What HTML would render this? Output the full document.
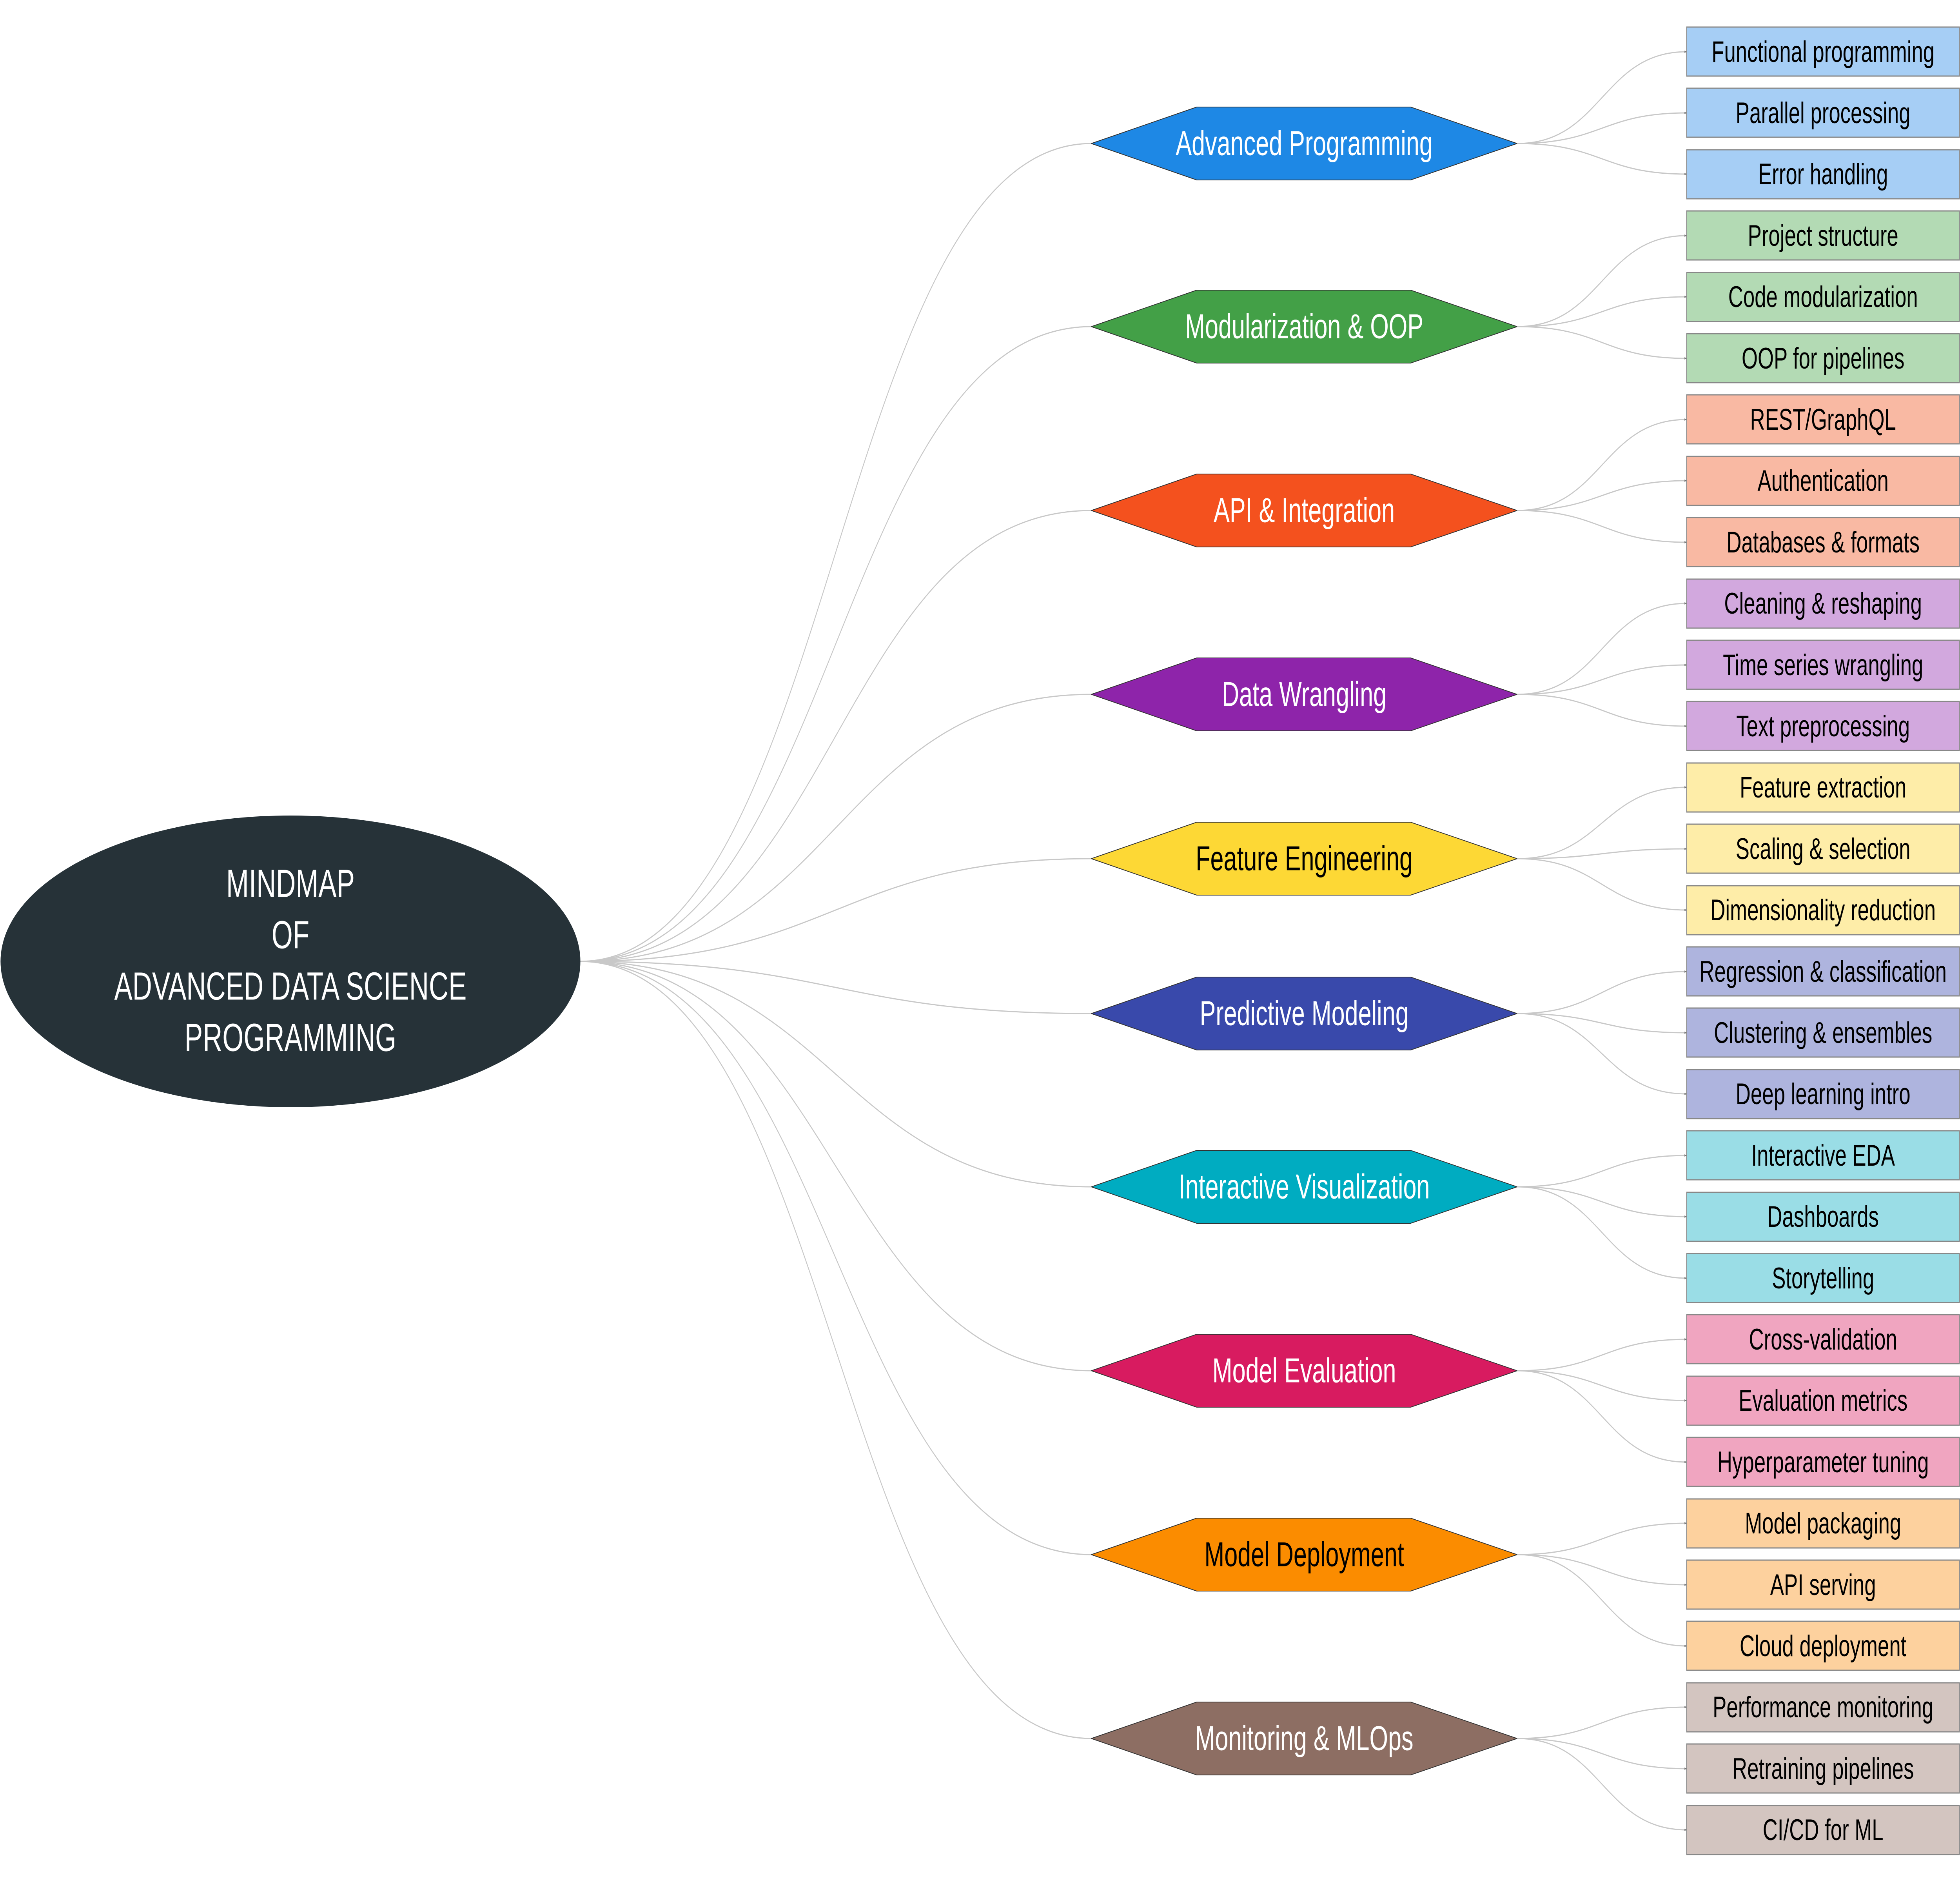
<!DOCTYPE html>
<html><head><meta charset="utf-8"><style>
html,body{margin:0;padding:0;background:#fff;width:100%;height:100%;overflow:hidden;}
svg{display:block;width:100vw;height:100vh;}
text{font-family:"Liberation Sans",sans-serif;text-anchor:middle;dominant-baseline:central;}
.h{font-size:88px;}
.l{font-size:76px;fill:#000;}
.e{fill:none;stroke:#c8c8c8;stroke-width:3;}
.b{stroke:#888;stroke-width:3;}
</style></head><body>
<svg viewBox="0 0 7200 4800" preserveAspectRatio="none" xmlns="http://www.w3.org/2000/svg">
<defs><marker id="a" markerWidth="8" markerHeight="8" refX="8" refY="4" orient="auto" markerUnits="userSpaceOnUse"><path d="M0,1 L8,4 L0,7 z" fill="#777"/></marker></defs>
<g class="e">
<path d="M2130,2452 C3070,2452 3070,366 4009,366"/>
<path d="M2130,2452 C3070,2452 3070,833 4009,833"/>
<path d="M2130,2452 C3070,2452 3070,1302 4009,1302"/>
<path d="M2130,2452 C3070,2452 3070,1771 4009,1771"/>
<path d="M2130,2452 C3070,2452 3070,2190 4009,2190"/>
<path d="M2130,2452 C3070,2452 3070,2585 4009,2585"/>
<path d="M2130,2452 C3070,2452 3070,3027 4009,3027"/>
<path d="M2130,2452 C3070,2452 3070,3496 4009,3496"/>
<path d="M2130,2452 C3070,2452 3070,3965 4009,3965"/>
<path d="M2130,2452 C3070,2452 3070,4434 4009,4434"/>
</g>
<g class="e" marker-end="url(#a)">
<path d="M5573,366 C5885,366 5885,132 6196,132"/>
<path d="M5573,366 C5885,366 5885,288 6196,288"/>
<path d="M5573,366 C5885,366 5885,444 6196,444"/>
<path d="M5573,833 C5885,833 5885,601 6196,601"/>
<path d="M5573,833 C5885,833 5885,757 6196,757"/>
<path d="M5573,833 C5885,833 5885,914 6196,914"/>
<path d="M5573,1302 C5885,1302 5885,1070 6196,1070"/>
<path d="M5573,1302 C5885,1302 5885,1226 6196,1226"/>
<path d="M5573,1302 C5885,1302 5885,1383 6196,1383"/>
<path d="M5573,1771 C5885,1771 5885,1539 6196,1539"/>
<path d="M5573,1771 C5885,1771 5885,1696 6196,1696"/>
<path d="M5573,1771 C5885,1771 5885,1852 6196,1852"/>
<path d="M5573,2190 C5885,2190 5885,2008 6196,2008"/>
<path d="M5573,2190 C5885,2190 5885,2165 6196,2165"/>
<path d="M5573,2190 C5885,2190 5885,2321 6196,2321"/>
<path d="M5573,2585 C5885,2585 5885,2478 6196,2478"/>
<path d="M5573,2585 C5885,2585 5885,2634 6196,2634"/>
<path d="M5573,2585 C5885,2585 5885,2790 6196,2790"/>
<path d="M5573,3027 C5885,3027 5885,2947 6196,2947"/>
<path d="M5573,3027 C5885,3027 5885,3103 6196,3103"/>
<path d="M5573,3027 C5885,3027 5885,3260 6196,3260"/>
<path d="M5573,3496 C5885,3496 5885,3416 6196,3416"/>
<path d="M5573,3496 C5885,3496 5885,3572 6196,3572"/>
<path d="M5573,3496 C5885,3496 5885,3729 6196,3729"/>
<path d="M5573,3965 C5885,3965 5885,3885 6196,3885"/>
<path d="M5573,3965 C5885,3965 5885,4042 6196,4042"/>
<path d="M5573,3965 C5885,3965 5885,4198 6196,4198"/>
<path d="M5573,4434 C5885,4434 5885,4354 6196,4354"/>
<path d="M5573,4434 C5885,4434 5885,4511 6196,4511"/>
<path d="M5573,4434 C5885,4434 5885,4667 6196,4667"/>
</g>
<ellipse cx="1067" cy="2452" rx="1065" ry="372" fill="#263238"/>
<g fill="#fff" style="font-size:100px">
<text x="1067" y="2254">MINDMAP</text>
<text x="1067" y="2385">OF</text>
<text x="1067" y="2516">ADVANCED DATA SCIENCE</text>
<text x="1067" y="2647">PROGRAMMING</text>
</g>
<g stroke="#333" stroke-width="2">
<path fill="#1E88E5" d="M4009,366 L4396,273 L5182,273 L5573,366 L5182,459 L4396,459 Z"/>
<path fill="#43A047" d="M4009,833 L4396,740 L5182,740 L5573,833 L5182,926 L4396,926 Z"/>
<path fill="#F4511E" d="M4009,1302 L4396,1209 L5182,1209 L5573,1302 L5182,1395 L4396,1395 Z"/>
<path fill="#8E24AA" d="M4009,1771 L4396,1678 L5182,1678 L5573,1771 L5182,1864 L4396,1864 Z"/>
<path fill="#FDD835" d="M4009,2190 L4396,2097 L5182,2097 L5573,2190 L5182,2283 L4396,2283 Z"/>
<path fill="#3949AB" d="M4009,2585 L4396,2492 L5182,2492 L5573,2585 L5182,2678 L4396,2678 Z"/>
<path fill="#00ACC1" d="M4009,3027 L4396,2934 L5182,2934 L5573,3027 L5182,3120 L4396,3120 Z"/>
<path fill="#D81B60" d="M4009,3496 L4396,3403 L5182,3403 L5573,3496 L5182,3589 L4396,3589 Z"/>
<path fill="#FB8C00" d="M4009,3965 L4396,3872 L5182,3872 L5573,3965 L5182,4058 L4396,4058 Z"/>
<path fill="#8D6E63" d="M4009,4434 L4396,4341 L5182,4341 L5573,4434 L5182,4527 L4396,4527 Z"/>
</g>
<g class="h">
<text x="4791" y="366" fill="#fff">Advanced Programming</text>
<text x="4791" y="833" fill="#fff">Modularization &amp; OOP</text>
<text x="4791" y="1302" fill="#fff">API &amp; Integration</text>
<text x="4791" y="1771" fill="#fff">Data Wrangling</text>
<text x="4791" y="2190" fill="#000">Feature Engineering</text>
<text x="4791" y="2585" fill="#fff">Predictive Modeling</text>
<text x="4791" y="3027" fill="#fff">Interactive Visualization</text>
<text x="4791" y="3496" fill="#fff">Model Evaluation</text>
<text x="4791" y="3965" fill="#000">Model Deployment</text>
<text x="4791" y="4434" fill="#fff">Monitoring &amp; MLOps</text>
</g>
<g class="b">
<rect x="6196" y="69" width="1002" height="125" fill="#A6CEF5"/>
<rect x="6196" y="225" width="1002" height="125" fill="#A6CEF5"/>
<rect x="6196" y="382" width="1002" height="125" fill="#A6CEF5"/>
<rect x="6196" y="538" width="1002" height="125" fill="#B3DAB4"/>
<rect x="6196" y="695" width="1002" height="125" fill="#B3DAB4"/>
<rect x="6196" y="851" width="1002" height="125" fill="#B3DAB4"/>
<rect x="6196" y="1007" width="1002" height="125" fill="#F9B9A3"/>
<rect x="6196" y="1164" width="1002" height="125" fill="#F9B9A3"/>
<rect x="6196" y="1320" width="1002" height="125" fill="#F9B9A3"/>
<rect x="6196" y="1477" width="1002" height="125" fill="#D2A8DE"/>
<rect x="6196" y="1633" width="1002" height="125" fill="#D2A8DE"/>
<rect x="6196" y="1789" width="1002" height="125" fill="#D2A8DE"/>
<rect x="6196" y="1946" width="1002" height="125" fill="#FEEDA8"/>
<rect x="6196" y="2102" width="1002" height="125" fill="#FEEDA8"/>
<rect x="6196" y="2259" width="1002" height="125" fill="#FEEDA8"/>
<rect x="6196" y="2415" width="1002" height="125" fill="#AEB4DE"/>
<rect x="6196" y="2571" width="1002" height="125" fill="#AEB4DE"/>
<rect x="6196" y="2728" width="1002" height="125" fill="#AEB4DE"/>
<rect x="6196" y="2884" width="1002" height="125" fill="#9ADDE6"/>
<rect x="6196" y="3041" width="1002" height="125" fill="#9ADDE6"/>
<rect x="6196" y="3197" width="1002" height="125" fill="#9ADDE6"/>
<rect x="6196" y="3353" width="1002" height="125" fill="#F0A5C0"/>
<rect x="6196" y="3510" width="1002" height="125" fill="#F0A5C0"/>
<rect x="6196" y="3666" width="1002" height="125" fill="#F0A5C0"/>
<rect x="6196" y="3823" width="1002" height="125" fill="#FDD19E"/>
<rect x="6196" y="3979" width="1002" height="125" fill="#FDD19E"/>
<rect x="6196" y="4135" width="1002" height="125" fill="#FDD19E"/>
<rect x="6196" y="4292" width="1002" height="125" fill="#D3C5C0"/>
<rect x="6196" y="4448" width="1002" height="125" fill="#D3C5C0"/>
<rect x="6196" y="4605" width="1002" height="125" fill="#D3C5C0"/>
</g>
<g class="l">
<text x="6697" y="132">Functional programming</text>
<text x="6697" y="288">Parallel processing</text>
<text x="6697" y="444">Error handling</text>
<text x="6697" y="601">Project structure</text>
<text x="6697" y="757">Code modularization</text>
<text x="6697" y="914">OOP for pipelines</text>
<text x="6697" y="1070">REST/GraphQL</text>
<text x="6697" y="1226">Authentication</text>
<text x="6697" y="1383">Databases &amp; formats</text>
<text x="6697" y="1539">Cleaning &amp; reshaping</text>
<text x="6697" y="1696">Time series wrangling</text>
<text x="6697" y="1852">Text preprocessing</text>
<text x="6697" y="2008">Feature extraction</text>
<text x="6697" y="2165">Scaling &amp; selection</text>
<text x="6697" y="2321">Dimensionality reduction</text>
<text x="6697" y="2478">Regression &amp; classification</text>
<text x="6697" y="2634">Clustering &amp; ensembles</text>
<text x="6697" y="2790">Deep learning intro</text>
<text x="6697" y="2947">Interactive EDA</text>
<text x="6697" y="3103">Dashboards</text>
<text x="6697" y="3260">Storytelling</text>
<text x="6697" y="3416">Cross-validation</text>
<text x="6697" y="3572">Evaluation metrics</text>
<text x="6697" y="3729">Hyperparameter tuning</text>
<text x="6697" y="3885">Model packaging</text>
<text x="6697" y="4042">API serving</text>
<text x="6697" y="4198">Cloud deployment</text>
<text x="6697" y="4354">Performance monitoring</text>
<text x="6697" y="4511">Retraining pipelines</text>
<text x="6697" y="4667">CI/CD for ML</text>
</g>
</svg>
</body></html>
